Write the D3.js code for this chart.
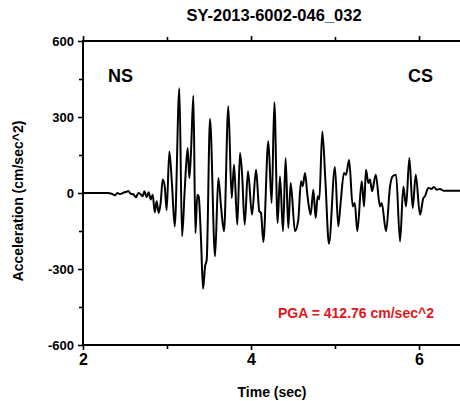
<!DOCTYPE html>
<html>
<head>
<meta charset="utf-8">
<script src="https://cdn.jsdelivr.net/npm/d3@7"></script>
<style>
body {margin:0; background:#fff;}
svg text {font-family:"Liberation Sans", Arial, sans-serif; font-weight:bold;}
</style>
</head>
<body>
<svg id=holder></svg>
<script>
// record values
var times=[2.0,2.30,2.341,2.381,2.409,2.44,2.48,2.52,2.54,2.567,2.599,2.631,2.659,2.686,
    2.711,2.731,2.758,2.782,2.806,2.830,2.854,2.877,2.901,2.925,2.949,2.973,2.996,3.028,3.060,3.092,
    3.147,3.179,3.211,3.246,3.266,3.286,3.314,3.338,3.361,3.377,3.405,3.429,3.453,3.473,3.512,
    3.572,3.611,3.643,3.679,3.730,3.770,3.798,3.837,3.869,3.893,3.925,3.964,4.012,4.060,4.099,4.119,4.147,
    4.206,4.246,4.278,4.317,4.345,4.381,4.412,4.444,4.472,4.524,4.563,4.595,4.615,4.643,4.671,4.710,4.742,
    4.770,4.793,4.813,4.849,4.885,4.928,4.999,5.039,5.067,5.107,5.131,5.168,5.211,5.235,5.266,5.318,5.346,
    5.369,5.397,5.417,5.441,5.485,5.536,5.556,5.608,5.655,5.687,5.727,5.774,5.814,5.846,5.885,5.925,5.961,
    6.012,6.052,6.071,6.111,6.150,6.178,6.210,6.250,6.290,6.5];
var accel=[0,0,-3,-9,0,-4,1,5,8,-3,-5,-17,0,-5,
    -13,7,-16,3,-26,-7,-76,-33,-79,-37,53,26,-68,164,30,-132,
    413,-171,13,178,59,164,384,-158,-7,-13,-184,-378,-290,-263,292,
    -250,59,-53,-151,342,-20,112,-125,158,79,-125,86,-86,92,-72,-79,-193,
    204,-39,358,-118,66,-151,138,-138,39,-151,-105,46,26,79,-7,-86,13,
    -99,-13,-26,243,53,-200,103,-132,-39,79,72,130,-53,-39,-151,46,-53,
    92,39,53,7,72,-53,-39,-151,26,66,72,-191,26,-53,138,-59,72,
    -86,-20,-13,20,16,24,13,16,9,9];

var title_text="SY-2013-6002-046_032";
var x_ticks=[2,3,4,5,6];
var x_tick_labels=[2,4,6];
var y_ticks=[-600,-450,-300,-150,0,150,300,450,600];
var y_tick_labels=[-600,-300,0,300,600];
var pga_text="PGA = 412.76 cm/sec^2";

var W=460, H=401;
var pad_left=83, pad_top=41, pad_bottom=56;

var svg=d3.select('#holder').attr('width',W).attr('height',H);
var gg=svg.append('g');

var xscale=d3.scaleLinear().domain([2,6.5]).range([pad_left,pad_left+84*4.5]);
var yscale=d3.scaleLinear().domain([-600,600]).range([H-pad_bottom,pad_top]);

svg.append('clipPath').attr('id','clip')
    .append('rect').attr('x',pad_left).attr('y',pad_top-2)
    .attr('width',W-pad_left).attr('height',H-pad_bottom-pad_top+4);

// trace
var pts=times.map(function(t,i) {return [t,accel[i]];});
var line=d3.line()
    .curve(d3.curveMonotoneX)
    .x(function(d) {return xscale(d[0]);})
    .y(function(d) {return yscale(d[1]);});
gg.append('path')
    .attr('d',line(pts))
    .attr('clip-path','url(#clip)')
    .style('fill','none').style('stroke','#000').style('stroke-width',2)
    .style('stroke-linejoin','round');

// axes
function major(v,list) {return list.indexOf(v)>=0;}
var x_bottom=d3.axisBottom(xscale).tickValues(x_ticks)
    .tickFormat(function(d) {return major(d,x_tick_labels)?d:'';}).tickSize(5).tickPadding(4);
var x_top=d3.axisTop(xscale).tickValues(x_ticks).tickFormat('').tickSize(5);
var y_left=d3.axisLeft(yscale).tickValues(y_ticks)
    .tickFormat(function(d) {return major(d,y_tick_labels)?d:'';}).tickSize(5).tickPadding(4);

var XB=gg.append('g').attr('class','axis')
    .attr('transform','translate(0,'+(H-pad_bottom)+')').call(x_bottom);
var XT=gg.append('g').attr('class','axis')
    .attr('transform','translate(0,'+pad_top+')').call(x_top);
var YL=gg.append('g').attr('class','axis')
    .attr('transform','translate('+pad_left+',0)').call(y_left);

// minor ticks a bit shorter
XB.selectAll('.tick').filter(function(d) {return !major(d,x_tick_labels);}).select('line').attr('y2',4);
XT.selectAll('.tick').filter(function(d) {return !major(d,x_tick_labels);}).select('line').attr('y2',-4);
YL.selectAll('.tick').filter(function(d) {return !major(d,y_tick_labels);}).select('line').attr('x2',-4);

gg.selectAll('.axis path.domain').attr('d',null);
gg.selectAll('.axis line').style('stroke','#000').style('stroke-width',1.6);
XB.selectAll('text').style('font-size','16px').style('fill','#000')
    .style('font-family','"Liberation Sans", Arial, sans-serif').style('font-weight','bold');
YL.selectAll('text').style('font-size','13px').style('fill','#000')
    .style('font-family','"Liberation Sans", Arial, sans-serif').style('font-weight','bold');

// frame lines (left, top, bottom)
gg.append('line').attr('x1',pad_left).attr('x2',W).attr('y1',pad_top).attr('y2',pad_top)
    .style('stroke','#000').style('stroke-width',2);
gg.append('line').attr('x1',pad_left).attr('x2',W).attr('y1',H-pad_bottom).attr('y2',H-pad_bottom)
    .style('stroke','#000').style('stroke-width',2);
gg.append('line').attr('x1',pad_left).attr('x2',pad_left).attr('y1',pad_top-1).attr('y2',H-pad_bottom+1)
    .style('stroke','#000').style('stroke-width',2);

// labels
gg.append('text').attr('x',274).attr('y',21).style('text-anchor','middle')
    .style('font-size','16.5px').text(title_text);
gg.append('text').attr('x',272).attr('y',397).style('text-anchor','middle')
    .style('font-size','14px').text('Time (sec)');
gg.append('text').attr('transform','translate(23,201) rotate(-90)').style('text-anchor','middle')
    .style('font-size','14px').text('Acceleration (cm/sec^2)');
gg.append('text').attr('x',108).attr('y',82).style('font-size','18px').text('NS');
gg.append('text').attr('x',433).attr('y',82).style('text-anchor','end').style('font-size','18px').text('CS');
gg.append('text').attr('x',278).attr('y',318).style('font-size','14px').style('fill','#e3151b').text(pga_text);
</script>
</body>
</html>
